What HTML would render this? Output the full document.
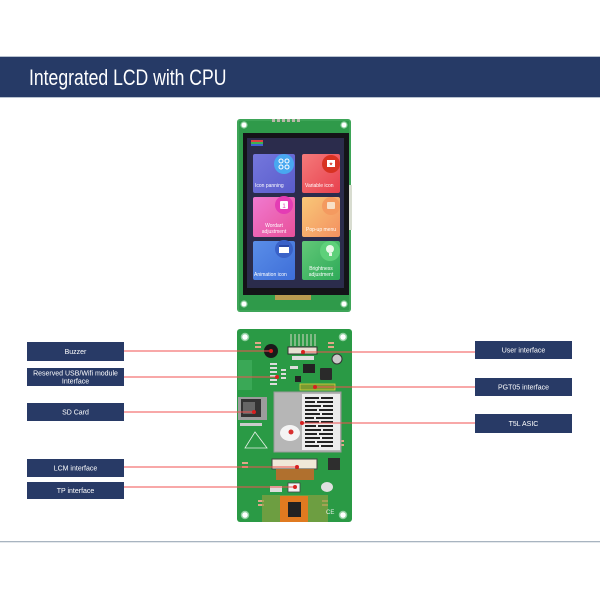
<!DOCTYPE html>
<html>
<head>
<meta charset="utf-8">
<style>
html,body{margin:0;padding:0;background:#fff;}
svg{display:block;}
text{font-family:"Liberation Sans",sans-serif;}
</style>
</head>
<body>
<svg width="600" height="600" viewBox="0 0 600 600" xmlns="http://www.w3.org/2000/svg">
<defs>
<linearGradient id="t1" x1="0" y1="0" x2="1" y2="1"><stop offset="0" stop-color="#7477dc"/><stop offset="1" stop-color="#5a5ccc"/></linearGradient>
<linearGradient id="t2" x1="0" y1="0" x2="1" y2="1"><stop offset="0" stop-color="#f47a7a"/><stop offset="1" stop-color="#e8404e"/></linearGradient>
<linearGradient id="t3" x1="0" y1="0" x2="1" y2="1"><stop offset="0" stop-color="#f07ad0"/><stop offset="1" stop-color="#e8509a"/></linearGradient>
<linearGradient id="t4" x1="0" y1="0" x2="1" y2="1"><stop offset="0" stop-color="#f8c878"/><stop offset="1" stop-color="#f49060"/></linearGradient>
<linearGradient id="t5" x1="0" y1="0" x2="1" y2="1"><stop offset="0" stop-color="#5a8ee8"/><stop offset="1" stop-color="#3e6ed8"/></linearGradient>
<linearGradient id="t6" x1="0" y1="0" x2="1" y2="1"><stop offset="0" stop-color="#62c878"/><stop offset="1" stop-color="#2eaa58"/></linearGradient>
</defs>

<!-- header -->
<rect x="0" y="57" width="600" height="40" fill="#263a66"/>
<rect x="0" y="56" width="600" height="1" fill="#b8c2d0"/>
<rect x="0" y="97" width="600" height="1" fill="#b8c2d0"/>
<text x="29" y="85" font-size="22" fill="#ffffff" transform="translate(29 0) scale(0.8 1) translate(-29 0)">Integrated LCD with CPU</text>

<!-- TOP BOARD -->
<rect x="237" y="119" width="114" height="193" rx="3" fill="#2f9a4a"/>
<rect x="238" y="120" width="112" height="191" rx="2" fill="none" stroke="#4db066" stroke-width="1"/>
<g fill="#b8b8a8">
<rect x="272" y="119" width="3" height="3"/><rect x="277" y="119" width="3" height="3"/><rect x="282" y="119" width="3" height="3"/><rect x="287" y="119" width="3" height="3"/><rect x="292" y="119" width="3" height="3"/><rect x="297" y="119" width="3" height="3"/>
</g>
<g fill="#ffffff" stroke="#8fcf9f" stroke-width="1.2">
<circle cx="244" cy="125" r="3"/><circle cx="344" cy="125" r="3"/><circle cx="244" cy="304" r="3"/><circle cx="344" cy="304" r="3"/>
</g>
<rect x="348" y="185" width="4" height="45" fill="#d8dcd0"/>
<rect x="243" y="133" width="106" height="162" fill="#141418"/>
<rect x="247" y="138" width="97" height="150" fill="#2b2c4c"/>
<rect x="275" y="295" width="36" height="5" fill="#b89a50"/>
<rect x="251" y="140" width="12" height="2" fill="#e04040"/>
<rect x="251" y="142" width="12" height="2" fill="#40b050"/>
<rect x="251" y="144" width="12" height="2" fill="#4060d0"/>

<!-- tiles -->
<rect x="253" y="154" width="42" height="39" rx="2" fill="url(#t1)"/>
<circle cx="284" cy="164" r="10" fill="#48a8f0"/>
<g fill="none" stroke="#fff" stroke-width="1"><circle cx="281" cy="161" r="2"/><circle cx="287" cy="161" r="2"/><circle cx="281" cy="167" r="2"/><circle cx="287" cy="167" r="2"/></g>
<text x="255" y="187" font-size="5" fill="#fff">Icon panning</text>

<rect x="302" y="154" width="38" height="39" rx="2" fill="url(#t2)"/>
<circle cx="331" cy="164" r="9" fill="#d83222"/>
<rect x="327" y="160" width="8" height="7" fill="#fff"/>
<text x="331" y="165.5" font-size="5" fill="#d83222" text-anchor="middle">★</text>
<text x="305" y="187" font-size="5" fill="#fff">Variable icon</text>

<rect x="253" y="197" width="42" height="40" rx="2" fill="url(#t3)"/>
<circle cx="284" cy="205" r="9" fill="#e43cb4"/>
<rect x="280" y="201" width="8" height="8" rx="1" fill="#fff"/>
<text x="284" y="208" font-size="6" fill="#e43cb4" text-anchor="middle">1</text>
<text x="274" y="227" font-size="5" fill="#fff" text-anchor="middle">Wordart</text>
<text x="274" y="233" font-size="5" fill="#fff" text-anchor="middle">adjustment</text>

<rect x="302" y="197" width="38" height="40" rx="2" fill="url(#t4)"/>
<circle cx="331" cy="206" r="9" fill="#f49a60"/>
<rect x="327" y="202" width="8" height="7" rx="1" fill="#f8e0c8"/>
<text x="306" y="231" font-size="5" fill="#fff">Pop-up menu</text>

<rect x="253" y="241" width="42" height="39" rx="2" fill="url(#t5)"/>
<circle cx="284" cy="249" r="9" fill="#3a62c8"/>
<rect x="279" y="245" width="10" height="8" fill="#fff"/>
<rect x="279" y="245" width="10" height="2" fill="#2a4aa8"/>
<text x="254" y="276" font-size="5" fill="#fff">Animation icon</text>

<rect x="302" y="241" width="38" height="39" rx="2" fill="url(#t6)"/>
<circle cx="330" cy="251" r="10" fill="#5ed07a"/>
<circle cx="330" cy="249" r="4" fill="#e8f8e8"/>
<rect x="329" y="253" width="3" height="3" fill="#e8f8e8"/>
<text x="321" y="270" font-size="5" fill="#fff" text-anchor="middle">Brightness</text>
<text x="321" y="276" font-size="5" fill="#fff" text-anchor="middle">adjustment</text>

<!-- BOTTOM BOARD -->
<rect x="237" y="329" width="115" height="193" rx="3" fill="#2a9a45"/>
<rect x="238" y="360" width="14" height="30" fill="#3aa856"/>
<g fill="#ffffff" stroke="#8fcf9f" stroke-width="1.5">
<circle cx="245" cy="337" r="3.5"/><circle cx="343" cy="337" r="3.5"/><circle cx="245" cy="515" r="3.5"/><circle cx="343" cy="515" r="3.5"/>
</g>
<g fill="#e0a888">
<rect x="255" y="342" width="6" height="2"/><rect x="255" y="346" width="6" height="2"/>
<rect x="328" y="342" width="6" height="2"/><rect x="328" y="346" width="6" height="2"/>
<rect x="242" y="462" width="6" height="2"/><rect x="242" y="466" width="6" height="2"/>
<rect x="338" y="440" width="6" height="2"/><rect x="338" y="444" width="6" height="2"/>
<rect x="258" y="500" width="6" height="2"/><rect x="258" y="504" width="6" height="2"/>
<rect x="322" y="500" width="6" height="2"/><rect x="322" y="504" width="6" height="2"/>
</g>
<circle cx="271" cy="351" r="7" fill="#1a1a1a"/>
<g stroke="#d8d8c8" stroke-width="1">
<line x1="291" y1="334" x2="291" y2="346"/><line x1="295" y1="334" x2="295" y2="346"/><line x1="299" y1="334" x2="299" y2="346"/><line x1="303" y1="334" x2="303" y2="346"/><line x1="307" y1="334" x2="307" y2="346"/><line x1="311" y1="334" x2="311" y2="346"/><line x1="315" y1="334" x2="315" y2="346"/>
</g>
<rect x="288" y="347" width="29" height="7" fill="#e6e0d2" stroke="#333" stroke-width="1"/>
<rect x="292" y="356" width="22" height="4" fill="#ddd"/>
<circle cx="337" cy="359" r="5" fill="#c8c8c8" stroke="#333" stroke-width="1"/>
<rect x="303" y="364" width="12" height="9" fill="#222"/>
<rect x="320" y="368" width="12" height="12" rx="1" fill="#2a2a2a"/>
<rect x="295" y="376" width="6" height="6" fill="#222"/>
<g fill="#dcdcdc">
<rect x="270" y="363" width="7" height="2"/><rect x="270" y="367" width="7" height="2"/><rect x="270" y="371" width="7" height="2"/><rect x="270" y="375" width="7" height="2"/><rect x="270" y="379" width="7" height="2"/><rect x="270" y="383" width="7" height="2"/>
<rect x="281" y="369" width="5" height="2"/><rect x="281" y="373" width="5" height="2"/><rect x="281" y="377" width="5" height="2"/>
<rect x="290" y="366" width="8" height="3"/>
</g>
<rect x="300" y="384" width="35" height="6" fill="#7a9a30" stroke="#d8d040" stroke-width="0.8"/>
<rect x="238" y="397" width="29" height="23" fill="#9c9c9c"/>
<rect x="241" y="399" width="20" height="18" fill="#333"/>
<rect x="243" y="402" width="12" height="12" fill="#666"/>
<rect x="240" y="423" width="22" height="3" fill="#ccc"/>
<rect x="274" y="392" width="67" height="60" fill="#b6b6b6" stroke="#999" stroke-width="1"/>
<rect x="302" y="394" width="38" height="56" fill="#ececec"/>
<g fill="#222">
<rect x="305" y="397" width="14" height="2"/><rect x="321" y="397" width="12" height="2"/>
<rect x="305" y="401" width="10" height="2"/><rect x="317" y="401" width="16" height="2"/>
<rect x="305" y="405" width="16" height="2"/><rect x="323" y="405" width="10" height="2"/>
<rect x="305" y="409" width="12" height="2"/><rect x="319" y="409" width="14" height="2"/>
<rect x="305" y="413" width="15" height="2"/><rect x="322" y="413" width="11" height="2"/>
<rect x="305" y="417" width="9" height="2"/><rect x="316" y="417" width="17" height="2"/>
<rect x="305" y="421" width="14" height="2"/><rect x="321" y="421" width="12" height="2"/>
<rect x="305" y="425" width="11" height="2"/><rect x="318" y="425" width="15" height="2"/>
<rect x="305" y="429" width="16" height="2"/><rect x="323" y="429" width="10" height="2"/>
<rect x="305" y="433" width="12" height="2"/><rect x="319" y="433" width="14" height="2"/>
<rect x="305" y="437" width="15" height="2"/><rect x="322" y="437" width="11" height="2"/>
<rect x="305" y="441" width="10" height="2"/><rect x="317" y="441" width="16" height="2"/>
<rect x="305" y="445" width="14" height="2"/><rect x="321" y="445" width="12" height="2"/>
</g>
<ellipse cx="290" cy="433" rx="10" ry="8" fill="#f4f4f4"/>
<circle cx="291" cy="432" r="2.5" fill="#d83030"/>
<polygon points="255,432 245,448 267,448" fill="none" stroke="#e8f0e8" stroke-width="0.8"/>
<rect x="272" y="459" width="45" height="10" fill="#f0e8d8" stroke="#444" stroke-width="1"/>
<rect x="276" y="469" width="38" height="11" fill="#b0702e"/>
<rect x="328" y="458" width="12" height="12" fill="#2e2e2e"/>
<ellipse cx="327" cy="487" rx="6" ry="5" fill="#e0e0e0"/>
<rect x="270" y="486" width="12" height="6" fill="#dcdcdc"/>
<rect x="288" y="483" width="12" height="9" fill="#f0f0f0" stroke="#444" stroke-width="0.8"/>
<rect x="262" y="495" width="66" height="27" fill="#8aa040" opacity="0.7"/>
<rect x="280" y="496" width="28" height="26" fill="#e07a20"/>
<rect x="288" y="502" width="13" height="15" fill="#222"/>
<text x="326" y="514" font-size="6" fill="#e8f0e8">CE</text>

<rect x="0" y="541" width="600" height="1.3" fill="#a8b4c0"/>

<g stroke="#f05050" stroke-width="1">
<line x1="124" y1="351" x2="271" y2="351"/>
<line x1="124" y1="377" x2="277" y2="377"/>
<line x1="124" y1="412" x2="254" y2="412"/>
<line x1="124" y1="467" x2="297" y2="467"/>
<line x1="124" y1="487" x2="295" y2="487"/>
<line x1="303" y1="352" x2="475" y2="352"/>
<line x1="315" y1="387" x2="475" y2="387"/>
<line x1="302" y1="423" x2="475" y2="423"/>
</g>
<g fill="#d82020">
<circle cx="271" cy="351" r="2"/><circle cx="277" cy="377" r="2"/><circle cx="254" cy="412" r="2"/><circle cx="297" cy="467" r="2"/><circle cx="295" cy="487" r="2"/>
<circle cx="303" cy="352" r="2"/><circle cx="315" cy="387" r="2"/><circle cx="302" cy="423" r="2"/>
</g>

<g fill="#283a66">
<rect x="27" y="342" width="97" height="19"/>
<rect x="27" y="368" width="97" height="18"/>
<rect x="27" y="403" width="97" height="18"/>
<rect x="27" y="459" width="97" height="18"/>
<rect x="27" y="482" width="97" height="17"/>
<rect x="475" y="341" width="97" height="18"/>
<rect x="475" y="378" width="97" height="18"/>
<rect x="475" y="414" width="97" height="19"/>
</g>
<g fill="#ffffff" font-size="7" text-anchor="middle">
<text x="75.5" y="354">Buzzer</text>
<text x="75.5" y="375.5">Reserved USB/Wifi module</text>
<text x="75.5" y="383.5">Interface</text>
<text x="75.5" y="414.5">SD Card</text>
<text x="75.5" y="470.5">LCM interface</text>
<text x="75.5" y="493">TP interface</text>
<text x="523.5" y="352.5">User interface</text>
<text x="523.5" y="389.5">PGT05 interface</text>
<text x="523.5" y="426">T5L ASIC</text>
</g>
</svg>
</body>
</html>
